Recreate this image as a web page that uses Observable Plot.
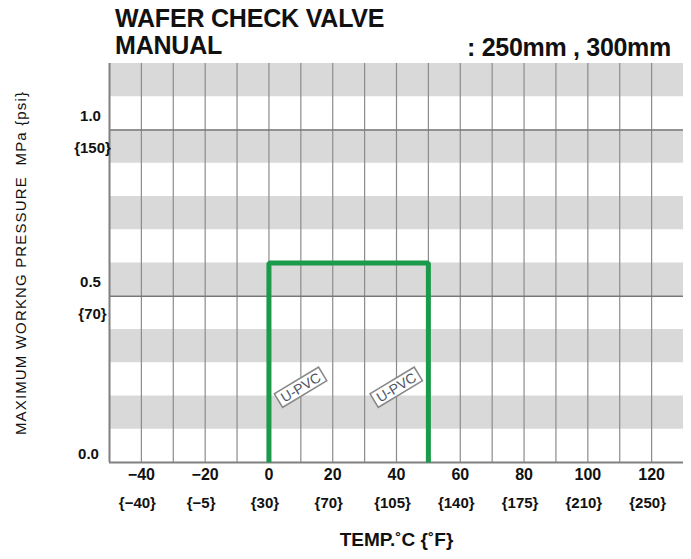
<!DOCTYPE html>
<html><head><meta charset="utf-8">
<script src="https://cdn.jsdelivr.net/npm/d3@7"></script>
<script src="https://cdn.jsdelivr.net/npm/@observablehq/plot@0.6"></script>
<style>
body{margin:0;background:#fff;}
#wrap{position:relative;width:691px;height:559px;font-family:"Liberation Sans",Arial,sans-serif;}
#wrap svg{position:absolute;left:0;top:0;}
.t{position:absolute;font-weight:bold;color:#111;white-space:nowrap;z-index:2;}
</style></head><body>
<div id="wrap">
<div class="t" style="left:115px;top:4px;font-size:25px;letter-spacing:-0.2px">WAFER CHECK VALVE</div>
<div class="t" style="left:115px;top:31px;font-size:25px;letter-spacing:-0.2px">MANUAL</div>
<div class="t" style="left:467px;top:33px;font-size:25px;letter-spacing:-0.3px">: 250mm , 300mm</div>
</div>
<script>
const tempTicks = [-40,-20,0,20,40,60,80,100,120];
const tempLabelsC = ["−40","−20","0","20","40","60","80","100","120"];
const tempLabelsF = ["{−40}","{−5}","{30}","{70}","{105}","{140}","{175}","{210}","{250}"];
const gridX = [-40,-30,-20,-10,0,10,20,30,40,50,60,70,80,90,100,110,120];
const pressTicks = [1.0, 0.5];
const pressLabelsMPa = ["1.0","0.5"];
const pressLabelsPsi = ["{150}","{70}"];
const zeroLabel = ["0.0"];
const bandLo = [0.1,0.3,0.5,0.7,0.9,1.1];
const bandHi = [0.2,0.4,0.6,0.8,1.0,1.2];
const majorY = [0.5, 1.0];
const pvcTemp = [0,0,50,50];
const pvcPress = [0,0.6,0.6,0];
const labelTemp = [10,40];
const labelPress = [0.225,0.225];
const labelText = ["U-PVC","U-PVC"];
const xTitle = "TEMP.˚C {˚F}";
const yTitle = "MAXIMUM WORKNG PRESSURE  MPa {psi}";

const bands = bandLo.map((lo,i)=>({lo, hi: bandHi[i]}));
const pvc = pvcTemp.map((t,i)=>({t, p: pvcPress[i]}));
const labels = labelTemp.map((t,i)=>({t, p: labelPress[i], s: labelText[i]}));
const xt = tempTicks.map((t,i)=>({t, c: tempLabelsC[i], f: tempLabelsF[i]}));
const yt = pressTicks.map((p,i)=>({p, m: pressLabelsMPa[i], s: pressLabelsPsi[i]}));

const font = "Liberation Sans, Arial, sans-serif";
const chart = Plot.plot({
  width: 691, height: 559,
  marginLeft: 109, marginRight: 8, marginTop: 63, marginBottom: 97,
  style: {fontFamily: font, background: "transparent", overflow: "visible"},
  x: {domain: [-50, 130], axis: null},
  y: {domain: [0, 1.2], axis: null},
  marks: [
    Plot.rect(bands, {y1: "lo", y2: "hi", fill: "#d9d9d9"}),
    Plot.ruleX(gridX, {stroke: "#8c8c8c", strokeWidth: 1.2}),
    Plot.ruleY(majorY, {stroke: "#777", strokeWidth: 1.5}),
    Plot.ruleX([-50], {stroke: "#808080", strokeWidth: 2}),
    Plot.ruleY([0], {stroke: "#808080", strokeWidth: 2}),
    Plot.line(pvc, {x: "t", y: "p", stroke: "#1a9a4a", strokeWidth: 5, strokeLinejoin: "miter", strokeLinecap: "butt"}),
    Plot.text(labels, {x: "t", y: "p", text: "s", rotate: -31, fill: "#4d5566", fontSize: 14}),
    Plot.text(yt, {y: "p", text: "m", frameAnchor: "left", textAnchor: "middle", dx: -19, dy: -14, fontSize: 15, fontWeight: "bold", fill: "#111"}),
    Plot.text(yt, {y: "p", text: "s", frameAnchor: "left", textAnchor: "middle", dx: -17, dy: 18, fontSize: 15, fontWeight: "bold", fill: "#111"}),
    Plot.text(zeroLabel, {y: () => 0, text: d => d, frameAnchor: "left", textAnchor: "middle", dx: -21, dy: -8, fontSize: 15, fontWeight: "bold", fill: "#111"}),
    Plot.text(xt, {x: "t", text: "c", frameAnchor: "bottom", dy: 17, fontSize: 16, fontWeight: "bold", fill: "#111"}),
    Plot.text(xt, {x: "t", text: "f", frameAnchor: "bottom", dy: 45, dx: -4, fontSize: 15, fontWeight: "bold", fill: "#111"}),
    Plot.text([xTitle], {text: d => d, frameAnchor: "bottom", dy: 83, fontSize: 19, fontWeight: "bold", fill: "#111"}),
    Plot.text([yTitle], {text: d => d, frameAnchor: "left", textAnchor: "middle", dx: -88, dy: 0, rotate: -90, fontSize: 15, fill: "#111"})
  ]
});
document.getElementById("wrap").appendChild(chart);
chart.querySelectorAll('text').forEach(t => {
  if (t.textContent === yTitle) { t.style.letterSpacing = "1.15px"; return; }
  if (t.textContent !== "U-PVC") return;
  const b = t.getBBox();
  const r = document.createElementNS("http://www.w3.org/2000/svg", "rect");
  r.setAttribute("x", b.x - 4); r.setAttribute("y", b.y);
  r.setAttribute("width", b.width + 8); r.setAttribute("height", b.height);
  r.setAttribute("fill", "#fff"); r.setAttribute("stroke", "#888"); r.setAttribute("stroke-width", 1.5);
  const tr = t.getAttribute("transform");
  if (tr) r.setAttribute("transform", tr);
  t.parentNode.insertBefore(r, t);
});
</script>
</body></html>
